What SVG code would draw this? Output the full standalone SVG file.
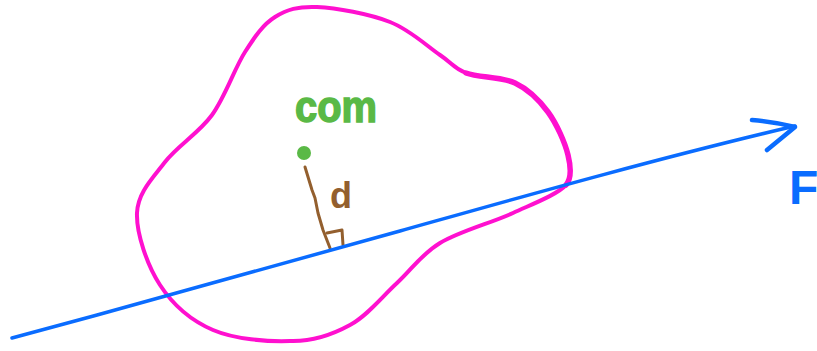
<svg xmlns="http://www.w3.org/2000/svg" width="817" height="351" viewBox="0 0 817 351">
<style>
.blob{fill:none;stroke:#ff10cf;stroke-width:4;stroke-linecap:round;stroke-linejoin:round}
.force{fill:none;stroke:#0a6cff;stroke-width:3.5;stroke-linecap:round;stroke-linejoin:round}
.brown{fill:none;stroke:#935f2e;stroke-width:3;stroke-linecap:round;stroke-linejoin:round}
.hand{font-family:"Liberation Sans",Arial,sans-serif;font-weight:bold}
</style>
<rect width="817" height="351" fill="#ffffff"/>
<g id="body">
<path class="blob" d="M317,7 C336.2,7.8 369.5,14 390,22 C410.5,30 427.3,46.5 440,55 C452.7,63.5 453.5,68.3 466,73 C478.5,77.7 501.3,76.5 515,83 C528.7,89.5 539.2,100 548,112 C556.8,124 565,142.8 568,155 C571,167.2 572,178 566,185 C556.8,194.7 534,203.3 513,213 C492,222.7 459.3,231.3 440,243 C420.7,254.7 412,269.3 397,283 C382,296.7 367.8,315.3 350,325 C332.2,334.7 312.8,341.8 290,341 C267.2,341.8 234.7,339.3 213,330 C191.3,320.7 172.7,304.5 160,285 C147.3,265.5 136.2,233.5 137,213 C137.8,192.5 152.5,178.3 165,162 C177.5,145.7 198.7,133.3 212,115 C225.3,96.7 234.5,68.3 245,52 C255.5,35.7 263,24.5 275,17 C287,9.5 297.8,6.2 317,7 Z"/>
<path class="blob" style="stroke-width:5.5" d="M466,73 C478.5,77.7 501.3,76.5 515,83 C528.7,89.5 539.2,100 548,112 C556.8,124 565,142.8 568,155 C571,167.2 572,178 566,185"/>
</g>
<g id="com">
<circle cx="304" cy="153" r="7" fill="#5ab946"/>
<text class="hand" x="295" y="122" font-size="44" fill="#5ab946" stroke="#5ab946" stroke-width="1.5" textLength="82" lengthAdjust="spacingAndGlyphs">com</text>
</g>
<g id="distance">
<path class="brown" d="M305,167 L312,190 L315,198 L318,213 L323,230 L330,248"/>
<path class="brown" d="M327,233 L342,230 L343,245"/>
<text class="hand" x="330" y="208" font-size="36" fill="#935f2e">d</text>
</g>
<g id="connectors">
<path class="force" d="M12,338 C150,301 300,259 400,231 S650,160 795,126"/>
<path class="force" style="stroke-width:4.5" d="M752,120 Q775,122 795,127 L767,150"/>
</g>
<g id="force-label">
<text class="hand" x="789" y="204" font-size="48" fill="#0a6cff">F</text>
</g>
</svg>
